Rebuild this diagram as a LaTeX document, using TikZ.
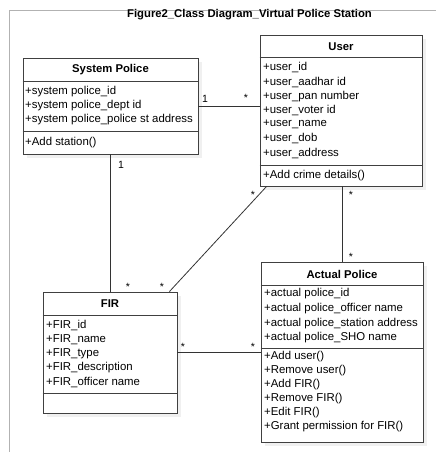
\documentclass[tikz,border=0pt]{standalone}
\usepackage{fontspec}
\setmainfont{Liberation Sans}
\usetikzlibrary{calc,shadows}

\tikzset{
  classbox/.style={draw=black!75, line width=.8pt, fill=white, inner sep=0pt,
    drop shadow={opacity=.12, shadow xshift=4pt, shadow yshift=-4pt}},
  classname/.style={font=\bfseries\fontsize{11.3}{13}\selectfont, inner sep=0pt},
  member/.style={anchor=west, font=\fontsize{11.4}{13}\selectfont, inner sep=0pt},
  mult/.style={font=\fontsize{10.5}{12}\selectfont, inner sep=0pt},
  assoc/.style={draw=black!80, line width=.8pt},
  sep/.style={draw=black!75, line width=.8pt},
}

\begin{document}
\begin{tikzpicture}[x=1pt, y=-1pt]
    \useasboundingbox (0,0) rectangle (436,452);
    % Rahmen.
    \draw[black!30, line width=.8pt] (9,452) -- (9,10) -- (436,10);
    \node[font=\bfseries\fontsize{11.3}{13}\selectfont] (title) at (249.5,15) {Figure2\_Class Diagram\_Virtual Police Station};

    % Klassen.
    \node[classbox, minimum width=175pt, minimum height=96pt] (police) at (110.5,106) {};
    \node[classbox, minimum width=162pt, minimum height=151pt] (user) at (341,110.5) {};
    \node[classbox, minimum width=134pt, minimum height=121pt] (fir) at (110,352.5) {};
    \node[classbox, minimum width=162pt, minimum height=180pt] (actual) at (342,352) {};

    \draw[sep] ($(police.north west)+(0,24)$) -- ($(police.north east)+(0,24)$);
    \draw[sep] ($(police.north west)+(0,74)$) -- ($(police.north east)+(0,74)$);
    \draw[sep] ($(user.north west)+(0,23)$) -- ($(user.north east)+(0,23)$);
    \draw[sep] ($(user.north west)+(0,131)$) -- ($(user.north east)+(0,131)$);
    \draw[sep] ($(fir.north west)+(0,24)$) -- ($(fir.north east)+(0,24)$);
    \draw[sep] ($(fir.north west)+(0,102)$) -- ($(fir.north east)+(0,102)$);
    \draw[sep] ($(actual.north west)+(0,24)$) -- ($(actual.north east)+(0,24)$);
    \draw[sep] ($(actual.north west)+(0,87)$) -- ($(actual.north east)+(0,87)$);

    % Namen.
    \node[classname] (policename) at (110.5,70) {System Police};
    \node[classname] (username) at (341,46.5) {User};
    \node[classname] (firname) at (110,304) {FIR};
    \node[classname] (actualname) at (342,274) {Actual Police};

    % Attribute und Methoden.
    \foreach \t [count=\i from 0] in {+system police\_id, +system police\_dept id, +system police\_police st address}
        \node[member] (pa\i) at (25,92+14*\i) {\t};
    \node[member] (pm0) at (25,143) {+Add station()};

    \foreach \t [count=\i from 0] in {+user\_id, +user\_aadhar id, +user\_pan number, +user\_voter id, +user\_name, +user\_dob, +user\_address}
        \node[member] (ua\i) at (263,68+14.17*\i) {\t};
    \node[member] (um0) at (263,176) {+Add crime details()};

    \foreach \t [count=\i from 0] in {+FIR\_id, +FIR\_name, +FIR\_type, +FIR\_description, +FIR\_officer name}
        \node[member] (fa\i) at (46,325+14.25*\i) {\t};

    \foreach \t [count=\i from 0] in {+actual police\_id, +actual police\_officer name, +actual police\_station address, +actual police\_SHO name}
        \node[member] (aa\i) at (264,294+14.6*\i) {\t};
    \foreach \t [count=\i from 0] in {+Add user(), +Remove user(), +Add FIR(), +Remove FIR(), +Edit FIR(), +Grant permission for FIR()}
        \node[member] (am\i) at (264,357+14*\i) {\t};

    % Assoziationen.
    \draw[assoc] (police.east) -- (police.east -| user.west);
    \draw[assoc] (police.south) -- (police.south |- fir.north);
    \draw[assoc] ($(user.south west)+(7,0)$) -- ($(fir.north east)+(-8,0)$);
    \draw[assoc] (actual.north |- user.south) -- (actual.north);
    \draw[assoc] (fir.east) -- (fir.east -| actual.west);

    % Multiplizitaeten.
    \node[mult] (m1) at (205,99) {1};
    \node[mult] (m2) at (246,98) {*};
    \node[mult] (m3) at (121,165) {1};
    \node[mult] (m4) at (128,287) {*};
    \node[mult] (m5) at (162,287) {*};
    \node[mult] (m6) at (253,195) {*};
    \node[mult] (m7) at (351,195) {*};
    \node[mult] (m8) at (351,257) {*};
    \node[mult] (m9) at (183,347) {*};
    \node[mult] (m10) at (253,347) {*};
\end{tikzpicture}
\end{document}
